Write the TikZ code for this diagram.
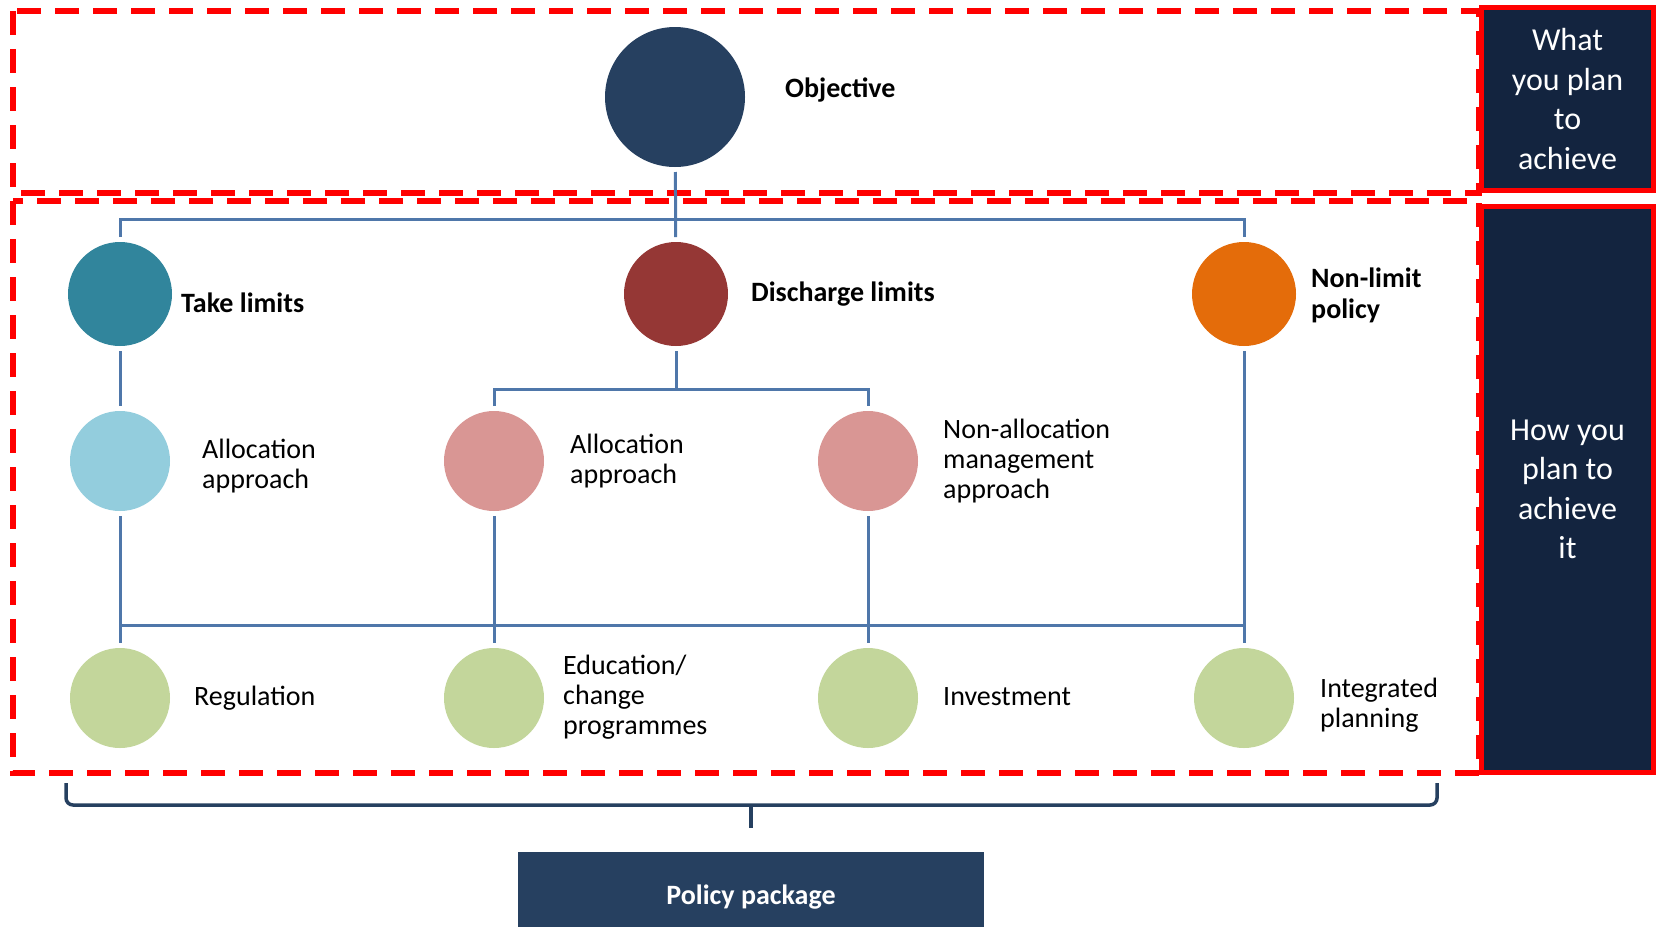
\documentclass[tikz,border=0pt]{standalone}
\usepackage{fontspec}
\setmainfont{Carlito}
\definecolor{objnavy}{HTML}{264060}
\definecolor{sidenavy}{HTML}{13243F}
\definecolor{taketeal}{HTML}{31859C}
\definecolor{dismaroon}{HTML}{953735}
\definecolor{nonorange}{HTML}{E46C0A}
\definecolor{allocblue}{HTML}{93CDDD}
\definecolor{allocpink}{HTML}{D99694}
\definecolor{toolgreen}{HTML}{C3D69B}
\definecolor{linkblue}{HTML}{4F77AA}
\begin{document}
\begin{tikzpicture}[x=1pt, y=-1pt, font=\fontsize{28}{30}\selectfont,
	bubble/.style={circle, fill=#1, minimum size=100pt, inner sep=0pt, outer sep=5pt},
	link/.style={draw=linkblue, line width=3pt},
	zone/.style={draw=red, line width=5.5pt, dash pattern=on 24pt off 14pt},
	sidebox/.style={draw=red, line width=5pt, fill=sidenavy, text=white, align=center,
		minimum width=172pt, font=\fontsize{32}{39.5}\selectfont},
	lbl/.style={anchor=west, align=left, inner sep=0pt},
	boldlbl/.style={lbl, font=\fontsize{28}{31}\selectfont\bfseries}]
	\useasboundingbox (0,0) rectangle (1659,927);
	%zones
	\draw[zone] (13,11) rectangle (1479,193);
	\draw[zone] (13,201) rectangle (1479,773);
	\node[sidebox, minimum height=183pt] (what) at (1567.5,99) {What\\you plan\\to\\achieve};
	\node[sidebox, minimum height=566pt] (how) at (1567.5,489.5) {How you\\plan to\\achieve\\it};
	%circles
	\node[bubble=objnavy, minimum size=140pt] (obj) at (675,97) {};
	\node[bubble=taketeal, minimum size=104pt] (take) at (120,294) {};
	\node[bubble=dismaroon, minimum size=104pt] (dis) at (676,294) {};
	\node[bubble=nonorange, minimum size=104pt] (non) at (1244,294) {};
	\node[bubble=allocblue] (talloc) at (120,461) {};
	\node[bubble=allocpink] (dalloc) at (494,461) {};
	\node[bubble=allocpink] (nalloc) at (868,461) {};
	\node[bubble=toolgreen] (reg) at (120,698) {};
	\node[bubble=toolgreen] (edu) at (494,698) {};
	\node[bubble=toolgreen] (inv) at (868,698) {};
	\node[bubble=toolgreen] (int) at (1244,698) {};
	%labels
	\node[boldlbl] at (785,90) {Objective};
	\node[boldlbl] at (181,303) {Take limits};
	\node[boldlbl] at (751,294) {Discharge limits};
	\node[boldlbl] at (1311,295) {Non-limit\\policy};
	\node[lbl] at (202,466) {Allocation\\approach};
	\node[lbl] at (570,461) {Allocation\\approach};
	\node[lbl] at (943,461) {Non-allocation\\management\\approach};
	\node[lbl] at (194,698) {Regulation};
	\node[lbl] at (563,697) {Education/\\change\\programmes};
	\node[lbl] at (943,697) {Investment};
	\node[lbl] at (1320,705) {Integrated\\planning};
	%links
	\coordinate (topbar) at (676,219);
	\coordinate (midbar) at (676,389);
	\coordinate (lowbar) at (682,625);
	\draw[link] (obj) -- (dis);
	\draw[link] (take.north) |- (topbar) -| (non.north);
	\draw[link] (take) -- (talloc);
	\draw[link] (dis) -- (midbar);
	\draw[link] (dalloc.north) |- (midbar) -| (nalloc.north);
	\draw[link] (talloc) -- (reg);
	\draw[link] (dalloc) -- (edu);
	\draw[link] (nalloc) -- (inv);
	\draw[link] (non) -- (int);
	\draw[link] (reg.north |- lowbar) -- (int.north |- lowbar);
	%package
	\draw[draw=objnavy, line width=3.5pt, rounded corners=7pt] (66,783) |- (751,805) -| (1437,783);
	\draw[draw=objnavy, line width=3.5pt] (751,805) -- (751,828);
	\node[fill=objnavy, text=white, minimum width=466pt, minimum height=75pt,
		text height=36pt, text depth=6pt,
		font=\fontsize{28}{30}\selectfont\bfseries] (pkg) at (751,889.5) {Policy package};
\end{tikzpicture}
\end{document}
